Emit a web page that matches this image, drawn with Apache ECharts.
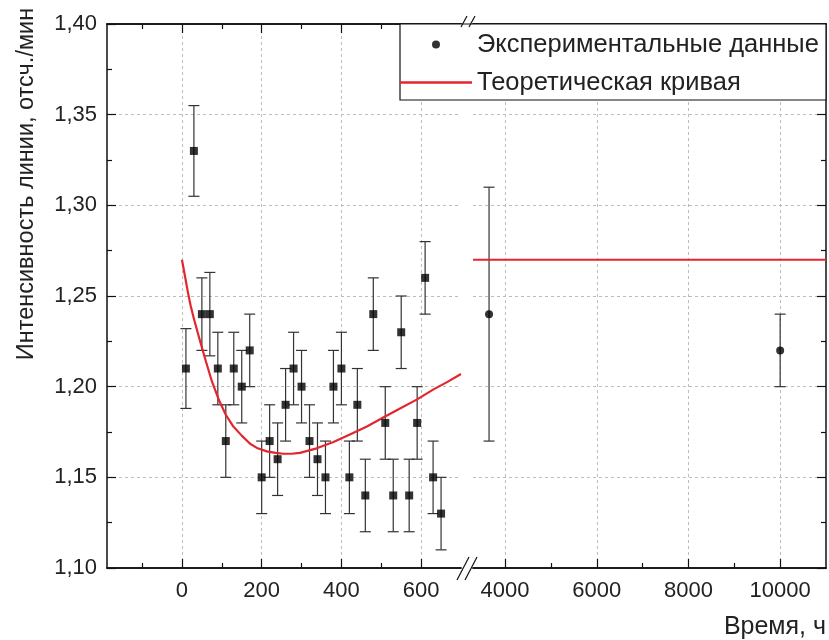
<!DOCTYPE html>
<html>
<head>
<meta charset="utf-8">
<script src="https://cdn.jsdelivr.net/npm/echarts@6/dist/echarts.min.js"></script>
<style>html,body{margin:0;padding:0;background:#fff}#c{width:829px;height:640px}</style>
</head>
<body>
<div id="c"></div>
<script>
// ---- data ----
const expX = [10, 30, 50, 70, 90, 110, 130, 150, 170, 200, 220, 240, 260, 280, 300, 320, 340, 360, 380, 400, 420, 440, 460, 480, 510, 530, 550, 570, 590, 610, 630, 650];
const expY = [1.21, 1.33, 1.24, 1.24, 1.21, 1.17, 1.21, 1.20, 1.22, 1.15, 1.17, 1.16, 1.19, 1.21, 1.20, 1.17, 1.16, 1.15, 1.20, 1.21, 1.15, 1.19, 1.14, 1.24, 1.18, 1.14, 1.23, 1.14, 1.18, 1.26, 1.15, 1.13];
const expErr = [0.022, 0.025, 0.02, 0.023, 0.02, 0.02, 0.02, 0.02, 0.02, 0.02, 0.02, 0.02, 0.02, 0.02, 0.02, 0.02, 0.02, 0.02, 0.02, 0.02, 0.02, 0.02, 0.02, 0.02, 0.02, 0.02, 0.02, 0.02, 0.02, 0.02, 0.02, 0.02];
const farX = [3650, 10000];
const farY = [1.24, 1.22];
const farErr = [0.07, 0.02];
const theoryX = [0, 8, 15, 22, 30, 45, 60, 75, 93, 110, 129, 150, 171, 190, 213, 235, 254, 275, 296, 338, 380, 420, 464, 505, 547, 590, 631, 665, 700];
const theoryY = [1.270, 1.2605, 1.252, 1.2445, 1.2375, 1.2255, 1.214, 1.203, 1.1925, 1.1845, 1.178, 1.173, 1.1685, 1.166, 1.1643, 1.1635, 1.163, 1.163, 1.1635, 1.166, 1.1695, 1.1735, 1.178, 1.183, 1.188, 1.193, 1.1985, 1.2025, 1.207];
const theoryFarX = [3300, 11000];
const theoryFarY = [1.27, 1.27];
const leftMajor = [0, 200, 400, 600];
const leftMinor = [-100, 100, 300, 500];
const rightMajor = [4000, 6000, 8000, 10000];
const rightMinor = [5000, 7000, 9000];
const nameExp = 'Экспериментальные данные';
const nameTheory = 'Теоретическая кривая';
const xTitle = 'Время, ч';
const yTitle = 'Интенсивность линии, отсч./мин';

// ---- styles ----
const FONT = 'Liberation Sans, Arial, sans-serif';
const TXT = '#222';
const gridLine = { show: true, lineStyle: { color: '#bcbcbc', type: [3, 3], width: 1 } };
const axisLineStyle = { show: true, onZero: false, lineStyle: { color: '#111', width: 1.5 } };

function xAx(gridIndex, min, max, pos, ticks, len, labels, split) {
  return {
    type: 'value', gridIndex, min, max, position: pos,
    axisLine: axisLineStyle,
    axisTick: { show: true, inside: true, length: len, customValues: ticks, lineStyle: { color: '#111', width: 1.2 } },
    axisLabel: labels ? { show: true, customValues: ticks, margin: 12, color: TXT, fontSize: 22, fontFamily: FONT,
      formatter: v => String(v) } : { show: false },
    splitLine: split ? Object.assign({}, gridLine) : { show: false },
    minorTick: { show: false }
  };
}

const xAxes = [
  xAx(0, -188, 700, 'bottom', leftMajor, 9, true, true),
  xAx(0, -188, 700, 'bottom', leftMinor, 5, false, false),
  xAx(0, -188, 700, 'top', leftMajor, 9, false, false),
  xAx(0, -188, 700, 'top', leftMinor, 5, false, false),
  xAx(1, 3300, 11000, 'bottom', rightMajor, 9, true, true),
  xAx(1, 3300, 11000, 'bottom', rightMinor, 5, false, false),
  xAx(1, 3300, 11000, 'top', rightMajor, 9, false, false),
  xAx(1, 3300, 11000, 'top', rightMinor, 5, false, false)
];

function yAx(gridIndex, pos, labels) {
  return {
    type: 'value', gridIndex, min: 1.10, max: 1.40, interval: 0.05, position: pos,
    axisLine: axisLineStyle,
    axisTick: { show: true, inside: true, length: 9, lineStyle: { color: '#111', width: 1.2 } },
    minorTick: { show: true, splitNumber: 2, length: 5, lineStyle: { color: '#111', width: 1.2 } },
    axisLabel: labels ? { show: true, margin: 10, color: TXT, fontSize: 22, fontFamily: FONT,
      formatter: v => v.toFixed(2).replace('.', ',') } : { show: false },
    splitLine: Object.assign({}, gridLine)
  };
}

function errRender(params, api) {
  const x = api.value(0), y = api.value(1), e = api.value(2);
  const t = api.coord([x, y + e]);
  const b = api.coord([x, y - e]);
  const hw = 5.5;
  const st = { stroke: '#333', lineWidth: 1.2 };
  return {
    type: 'group',
    children: [
      { type: 'line', shape: { x1: t[0], y1: t[1], x2: b[0], y2: b[1] }, style: st },
      { type: 'line', shape: { x1: t[0] - hw, y1: t[1], x2: t[0] + hw, y2: t[1] }, style: st },
      { type: 'line', shape: { x1: b[0] - hw, y1: b[1], x2: b[0] + hw, y2: b[1] }, style: st }
    ]
  };
}

const expPts = expX.map((x, i) => [x, expY[i]]);
const expErrData = expX.map((x, i) => [x, expY[i], expErr[i]]);
const farPts = farX.map((x, i) => [x, farY[i]]);
const farErrData = farX.map((x, i) => [x, farY[i], farErr[i]]);
const theoryPts = theoryX.map((x, i) => [x, theoryY[i]]);
const theoryFarPts = theoryFarX.map((x, i) => [x, theoryFarY[i]]);

const RED = '#e3262e';

const option = {
  animation: false,
  backgroundColor: '#fff',
  textStyle: { fontFamily: FONT },
  grid: [
    { left: 107, top: 24, width: 354, height: 544 },
    { left: 473, top: 24, width: 353, height: 544 }
  ],
  xAxis: xAxes,
  yAxis: [yAx(0, 'left', true), yAx(1, 'right', false)],
  legend: {
    orient: 'vertical', left: 400, top: 31, padding: 0, z: 30,
    itemWidth: 72, itemHeight: 8, itemGap: 11,
    textStyle: { fontSize: 25.5, lineHeight: 27, color: TXT, fontFamily: FONT },
    data: [
      { name: nameExp, icon: 'circle' },
      { name: nameTheory, icon: 'path://M0,0L72,0L72,2.4L0,2.4Z' }
    ]
  },
  series: [
    { type: 'custom', name: 'errLeft', xAxisIndex: 0, yAxisIndex: 0, renderItem: errRender,
      encode: { x: 0, y: 1 }, data: expErrData, z: 3, silent: true },
    { type: 'custom', name: 'errRight', xAxisIndex: 4, yAxisIndex: 1, renderItem: errRender,
      encode: { x: 0, y: 1 }, data: farErrData, z: 3, silent: true },
    { type: 'line', name: nameTheory, xAxisIndex: 0, yAxisIndex: 0, data: theoryPts, smooth: false,
      symbol: 'none', lineStyle: { color: RED, width: 2.2, join: 'round' }, itemStyle: { color: RED }, z: 4 },
    { type: 'line', name: nameTheory, xAxisIndex: 4, yAxisIndex: 1, data: theoryFarPts,
      symbol: 'none', lineStyle: { color: RED, width: 2.2 }, itemStyle: { color: RED }, z: 4 },
    { type: 'scatter', name: nameExp, xAxisIndex: 0, yAxisIndex: 0, data: expPts,
      symbol: 'rect', symbolSize: 8, itemStyle: { color: '#000' }, z: 5 },
    { type: 'scatter', name: nameExp, xAxisIndex: 4, yAxisIndex: 1, data: farPts,
      symbol: 'circle', symbolSize: 8, itemStyle: { color: '#000' }, z: 5 }
  ],
  graphic: [
    { type: 'rect', z: 20, shape: { x: 400, y: 24, width: 426, height: 76 },
      style: { fill: '#fff', stroke: '#111', lineWidth: 1.2 } },
    { type: 'line', z: 25, shape: { x1: 457, y1: 580, x2: 469, y2: 557 }, style: { stroke: '#111', lineWidth: 1.2 } },
    { type: 'line', z: 25, shape: { x1: 465, y1: 580, x2: 477, y2: 557 }, style: { stroke: '#111', lineWidth: 1.2 } },
    { type: 'line', z: 25, shape: { x1: 461, y1: 27, x2: 467, y2: 16 }, style: { stroke: '#111', lineWidth: 1.2 } },
    { type: 'line', z: 25, shape: { x1: 469, y1: 27, x2: 475, y2: 16 }, style: { stroke: '#111', lineWidth: 1.2 } },
    { type: 'text', z: 25, x: 826, y: 627,
      style: { text: xTitle, align: 'right', verticalAlign: 'middle', fontSize: 25, fontFamily: FONT, fill: TXT } },
    { type: 'text', z: 25, x: 27, y: 184, rotation: Math.PI / 2,
      style: { text: yTitle, align: 'center', verticalAlign: 'middle', fontSize: 23.5, fontFamily: FONT, fill: TXT } }
  ]
};

const chart = echarts.init(document.getElementById('c'), null, { renderer: 'canvas' });
chart.setOption(option);
</script>
</body>
</html>
